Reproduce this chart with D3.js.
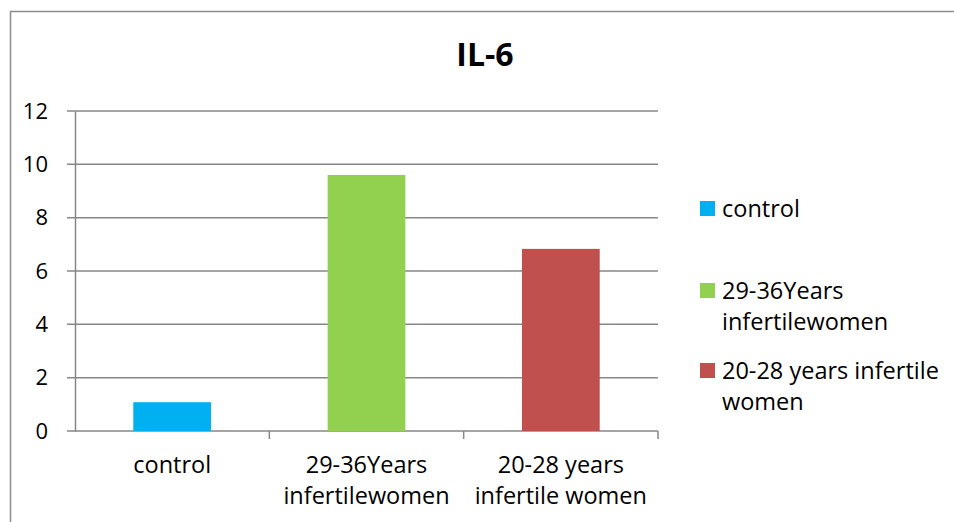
<!DOCTYPE html>
<html>
<head>
<meta charset="utf-8">
<script src="https://cdn.jsdelivr.net/npm/d3@7"></script>
<style>
  body { margin: 0; background: #fff; }
  svg { font-family: "Open Sans", sans-serif; }
</style>
</head>
<body>
<svg class="main-svg" width="954" height="522"></svg>
<script>
var categories = ['control', '29-36Years infertilewomen', '20-28 years infertile women'];
var axisLabels = [['control'], ['29-36Years', 'infertilewomen'], ['20-28 years', 'infertile women']];
var legendLabels = [['control'], ['29-36Years', 'infertilewomen'], ['20-28 years infertile', 'women']];
var values = [1.08, 9.6, 6.83];
var colours = ['#00b0f0', '#92d050', '#c0504d'];
var yTicks = [0, 2, 4, 6, 8, 10, 12];

var gridColour = '#878787',
    plotLeft = 75, plotRight = 658,
    plotTop = 111, plotBottom = 431,
    fontSize = '23.5px';

var svg = d3.select('.main-svg');

// outer chart frame
svg.append('rect')
  .attr('x', 10.5).attr('y', 11.5)
  .attr('width', 960).attr('height', 540)
  .attr('fill', 'none').attr('stroke', '#8c8c8c').attr('stroke-width', 1.5);

svg.append('text')
  .attr('x', 485).attr('y', 66)
  .attr('text-anchor', 'middle')
  .style('font-size', '32px').style('font-weight', 'bold')
  .text('IL-6');

var x = d3.scaleBand().domain(categories).range([plotLeft, plotRight]).paddingInner(0.6).paddingOuter(0.3);
var y = d3.scaleLinear().domain([0, 12]).range([plotBottom, plotTop]);

// gridlines
svg.append('g')
  .selectAll('line')
  .data(yTicks)
  .enter()
  .append('line')
  .attr('x1', plotLeft - 8).attr('x2', plotRight)
  .attr('y1', d => y(d)).attr('y2', d => y(d))
  .attr('stroke', gridColour).attr('stroke-width', 1.5);

var yAxis = svg.append('g')
  .attr('transform', 'translate(' + plotLeft + ',0)')
  .call(d3.axisLeft(y).tickValues(yTicks).tickSize(0).tickPadding(27));
yAxis.select('.domain').attr('stroke', gridColour).attr('stroke-width', 1.5);
yAxis.selectAll('text').style('font-size', '22px').attr('fill', '#000').attr('font-family', '"Open Sans", sans-serif');

svg.selectAll('rect.bar')
  .data(values)
  .enter()
  .append('rect')
  .attr('class', 'bar')
  .attr('x', (d, i) => x(categories[i]))
  .attr('width', x.bandwidth())
  .attr('y', d => y(d))
  .attr('height', d => y(0) - y(d))
  .attr('fill', (d, i) => colours[i]);

// category tick marks between bands
var step = (plotRight - plotLeft) / categories.length;
svg.append('g')
  .selectAll('line')
  .data(d3.range(1, categories.length + 1))
  .enter()
  .append('line')
  .attr('x1', i => plotLeft + i * step).attr('x2', i => plotLeft + i * step)
  .attr('y1', plotBottom).attr('y2', plotBottom + 8)
  .attr('stroke', gridColour).attr('stroke-width', 1.5);

svg.append('g')
  .selectAll('text')
  .data(axisLabels)
  .enter()
  .append('text')
  .attr('text-anchor', 'middle')
  .attr('x', (d, i) => x(categories[i]) + x.bandwidth() / 2)
  .attr('y', 473)
  .style('font-size', fontSize)
  .selectAll('tspan')
  .data(d => d)
  .enter()
  .append('tspan')
  .attr('x', function () { return d3.select(this.parentNode).attr('x'); })
  .attr('dy', (d, i) => i === 0 ? 0 : 31)
  .text(d => d);

// legend
var legendY = [201, 283, 363];
var legend = svg.append('g')
  .selectAll('g')
  .data(legendLabels)
  .enter()
  .append('g')
  .attr('transform', (d, i) => 'translate(700,' + legendY[i] + ')');
legend.append('rect')
  .attr('width', 15).attr('height', 15)
  .attr('fill', (d, i) => colours[i]);
legend.append('text')
  .attr('x', 22).attr('y', 16)
  .style('font-size', fontSize)
  .selectAll('tspan')
  .data(d => d)
  .enter()
  .append('tspan')
  .attr('x', 22)
  .attr('dy', (d, i) => i === 0 ? 0 : 31)
  .text(d => d);
</script>
</body>
</html>
